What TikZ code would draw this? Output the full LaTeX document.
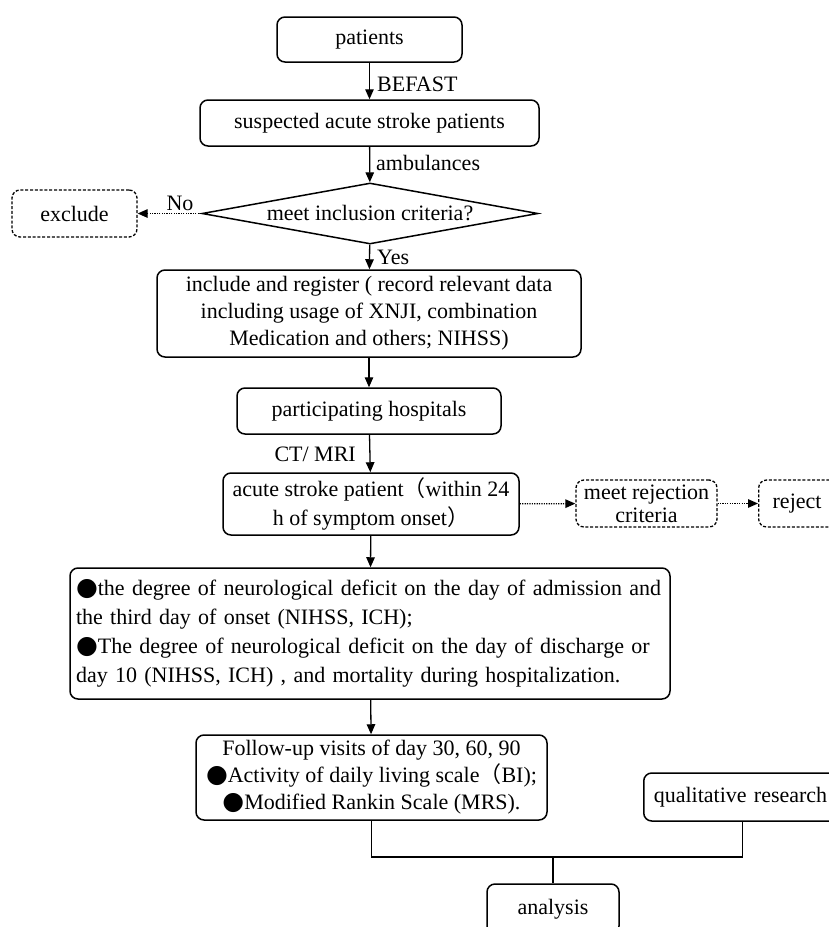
\documentclass[tikz,border=0pt]{standalone}
\usepackage{fontspec}
\setmainfont{Liberation Serif}
\newfontfamily\cjkfont{Noto Sans CJK SC}
\newfontfamily\symfont{DejaVu Sans}
\usetikzlibrary{shapes.geometric,arrows.meta}
\newcommand\blt{{\symfont\fontsize{25}{27}\selectfont ●}}
\newcommand\lpr{{\cjkfont （}}
\newcommand\rpr{{\cjkfont ）}}
\begin{document}
\begin{tikzpicture}[x=1pt,y=-1pt,
  every node/.style={font=\fontsize{22}{27}\selectfont},
  box/.style={draw, rounded corners=8pt, line width=1.5pt, inner sep=0pt, align=center},
  dbox/.style={box, line width=1.3pt, dash pattern=on 3pt off 1.8pt},
  arr/.style={line width=1.3pt, -{Triangle[length=10pt,width=8.5pt]}},
  darr/.style={arr, dash pattern=on 1.2pt off 1.2pt},
  ln/.style={line width=1.4pt},
  lbl/.style={inner sep=0pt}]
\useasboundingbox (0,0) rectangle (829,927);
\clip (0,0) rectangle (829,927);
% nodes
\node[box, minimum width=185pt, minimum height=45pt] (pat) at (369.5,39.5) {patients};
\node[box, minimum width=339pt, minimum height=46pt] (sus) at (369.5,123) {suspected acute stroke patients};
\node[draw, diamond, line width=1.5pt, aspect=5.5, inner sep=0pt, minimum width=336pt, minimum height=61pt] (dia) at (370,213.5) {meet inclusion criteria?};
\node[dbox, minimum width=125pt, minimum height=47pt] (exc) at (74.5,213.5) {exclude};
\node[box, minimum width=424pt, minimum height=87pt] (inc) at (369,313.5) {include and register ( record relevant data\\including usage of XNJI, combination\\Medication and others; NIHSS)};
\node[box, minimum width=264pt, minimum height=46pt] (par) at (369,411) {participating hospitals};
\node[box, minimum width=296pt, minimum height=62pt, font=\fontsize{22}{29}\selectfont] (acu) at (371,504) {acute stroke patient\lpr within 24\\h of symptom onset\rpr};
\node[dbox, minimum width=141pt, minimum height=47pt, font=\fontsize{22}{23}\selectfont] (rej) at (646.5,503.5) {meet rejection\\criteria};
\node[dbox, anchor=west, text width=70pt, align=left, inner xsep=14pt, minimum height=47pt] (rjt) at (758,503.5) {reject};
\node[box, minimum width=600pt, minimum height=131pt, text width=588pt, align=left, font=\fontsize{22}{29}\selectfont] (big) at (370,633.5) {\makebox[588pt][s]{\blt the degree of neurological deficit on the day of admission and}\\the third day of onset (NIHSS, ICH);\\\makebox[588pt][s]{\blt The degree of neurological deficit on the day of discharge or}\\day 10 (NIHSS, ICH) , and mortality during hospitalization.};
\node[box, minimum width=351pt, minimum height=85pt] (fol) at (371.5,777.5) {Follow-up visits of day 30, 60, 90\\\blt Activity of daily living scale\lpr BI);\\\blt Modified Rankin Scale (MRS).};
\node[box, anchor=west, text width=178pt, align=left, inner xsep=10pt, minimum height=48pt] (qua) at (643,797) {qualitative research};
\node[box, minimum width=132pt, minimum height=50pt] (ana) at (553,909) {analysis};
% labels
\node[lbl, anchor=west] (l1) at (377,84) {BEFAST};
\node[lbl, anchor=west] (l2) at (376,163) {ambulances};
\node[lbl, anchor=south] (l3) at (180,211) {No};
\node[lbl, anchor=west] (l4) at (377,257) {Yes};
\node[lbl, anchor=east] (l5) at (356,454) {CT/ MRI};
% connectors
\draw[arr] (pat) -- (sus);
\draw[arr] (sus) -- (dia);
\draw[darr] (dia) -- (exc);
\draw[arr] (dia) -- (inc);
\draw[arr] (inc) -- (par);
\draw[arr] (par) -- (acu);
\draw[darr] (acu) -- (rej);
\draw[darr] (rej) -- (rjt.west);
\draw[arr] (acu) -- (big);
\draw[arr] (big) -- (fol);
\coordinate (j) at (553,857);
\draw[ln] (fol.south) |- (j) -| (qua.south);
\draw[ln] (j) -- (ana.north);
\end{tikzpicture}
\end{document}
